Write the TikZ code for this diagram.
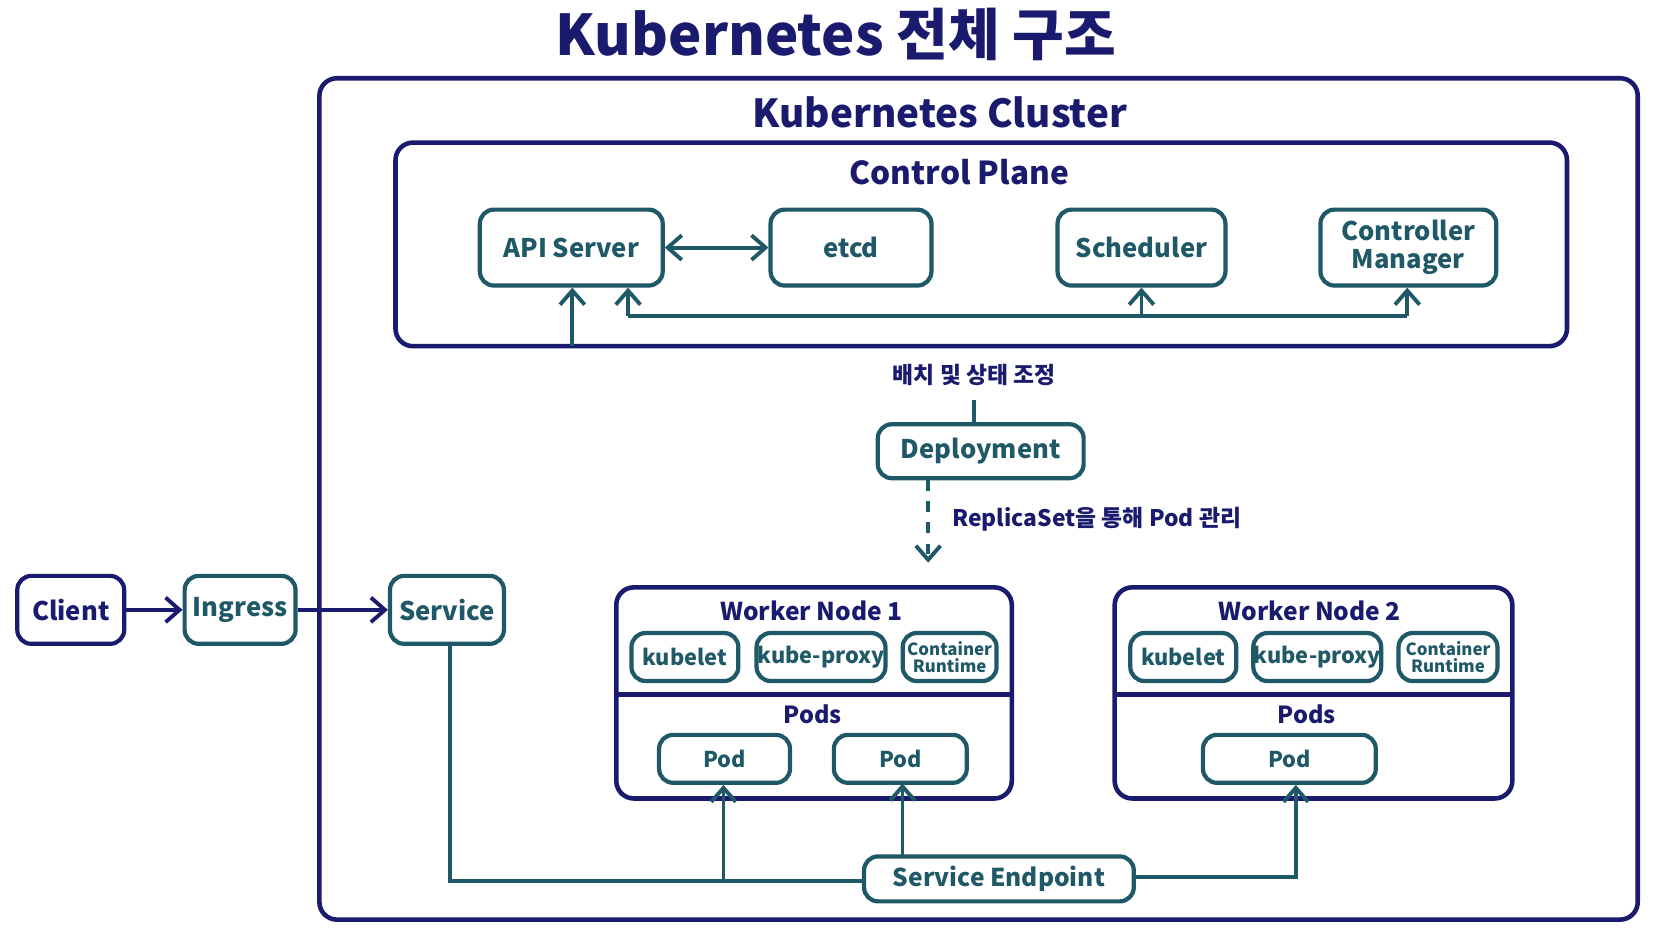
\documentclass[tikz,border=0pt]{standalone}
\usepackage{fontspec}
\setmainfont{Noto Sans CJK KR}
\usepackage{tikz}
\usetikzlibrary{arrows.meta,positioning}
\definecolor{navy}{HTML}{1A1A6E}
\definecolor{teal}{HTML}{1F5866}
\tikzset{
  frame/.style={draw=navy,line width=1.3pt,rounded corners=5pt},
  box/.style={draw=teal,line width=1.2pt,rounded corners=4pt,text=teal,font=\bfseries\fontsize{7.3}{8}\selectfont,align=center,inner sep=0pt},
  small/.style={box,font=\bfseries\fontsize{6.2}{6.5}\selectfont},
  tiny/.style={box,font=\bfseries\fontsize{4.8}{5}\selectfont},
  link/.style={draw=teal,line width=1.1pt,-{Straight Barb[length=4pt,width=7pt]}},
  lbl/.style={text=navy,font=\bfseries}
}
\begin{document}
\begin{tikzpicture}[x=0.01072cm,y=-0.01072cm]
\useasboundingbox (0,0) rectangle (1560,878);
% title
\node[lbl,font=\bfseries\fontsize{16}{18}\selectfont] (title) at (780,32) {Kubernetes 전체 구조};
% cluster
\draw[frame] (298,73) rectangle (1528,858);
\node[lbl,font=\bfseries\fontsize{11}{13}\selectfont] (cluster) at (877,105) {Kubernetes Cluster};
% control plane
\draw[frame] (369,133) rectangle (1462,323);
\node[lbl,font=\bfseries\fontsize{9}{11}\selectfont] (cp) at (895,161) {Control Plane};
\node[box,minimum width=1.83cm,minimum height=0.76cm] (api) at (533,231) {API Server};
\node[box,minimum width=1.61cm,minimum height=0.76cm] (etcd) at (794,231) {etcd};
\node[box,minimum width=1.68cm,minimum height=0.76cm] (sched) at (1065,231) {Scheduler};
\node[box,minimum width=1.76cm,minimum height=0.76cm] (ctrl) at (1314,231) {Controller\\Manager};
\draw[link,{Straight Barb[length=4pt,width=7pt]}-{Straight Barb[length=4pt,width=7pt]}] (api) -- (etcd);
\coordinate (cpin) at (534,323);
\draw[link] (cpin) -- (cpin |- api.south);
\coordinate (busl) at (586,295);
\coordinate (busr) at (1313,295);
\draw[draw=teal,line width=1.1pt] (busl) -- (busr);
\draw[link] (busl) -- (busl |- api.south);
\draw[link] (1065,295) -- (sched.south);
\draw[link] (busr) -- (busr |- ctrl.south);
% deployment
\node[lbl,font=\bfseries\fontsize{6.5}{8}\selectfont] (sync) at (909,350) {배치 및 상태 조정};
\node[box,minimum width=2.06cm,minimum height=0.54cm] (deploy) at (915,421) {Deployment};
\coordinate (synclow) at (909,373);
\draw[draw=teal,line width=1.1pt] (synclow) -- (synclow |- deploy.north);
\coordinate (rs) at (866,525);
\draw[link,dashed] (rs |- deploy.south) -- (rs);
\node[lbl,anchor=west,font=\bfseries\fontsize{6.5}{8}\selectfont] (rslbl) at (877,484) {ReplicaSet을 통해 Pod 관리};
% client path
\node[box,draw=navy,text=navy,minimum width=1.07cm,minimum height=0.68cm] (client) at (66,569) {Client};
\node[box,minimum width=1.11cm,minimum height=0.68cm] (ingress) at (224,569) {Ingress};
\node[box,minimum width=1.14cm,minimum height=0.68cm] (service) at (417,569) {Service};
\draw[link,draw=navy] (client) -- (ingress);
\draw[link,draw=navy] (ingress) -- (service);
% worker node 1
\draw[frame] (575,548) rectangle (944,745);
\draw[draw=navy,line width=1.3pt] (575,648) -- (944,648);
\node[lbl,font=\bfseries\fontsize{7}{8}\selectfont] (wn1) at (757,570) {Worker Node 1};
\node[small,minimum width=1.07cm,minimum height=0.48cm] (kl1) at (639,613) {kubelet};
\node[small,minimum width=1.29cm,minimum height=0.48cm] (kp1) at (766,613) {kube-proxy};
\node[tiny,minimum width=0.94cm,minimum height=0.48cm] (cr1) at (886,613) {Container\\Runtime};
\node[lbl,font=\bfseries\fontsize{6.7}{8}\selectfont] (pods1) at (758,666) {Pods};
\node[small,minimum width=1.31cm,minimum height=0.48cm] (pod1) at (676,708) {Pod};
\node[small,minimum width=1.33cm,minimum height=0.48cm] (pod2) at (840,708) {Pod};
% worker node 2
\draw[frame] (1040,548) rectangle (1411,745);
\draw[draw=navy,line width=1.3pt] (1040,648) -- (1411,648);
\node[lbl,font=\bfseries\fontsize{7}{8}\selectfont] (wn2) at (1222,570) {Worker Node 2};
\node[small,minimum width=1.06cm,minimum height=0.48cm] (kl2) at (1104,613) {kubelet};
\node[small,minimum width=1.28cm,minimum height=0.48cm] (kp2) at (1229,613) {kube-proxy};
\node[tiny,minimum width=0.99cm,minimum height=0.48cm] (cr2) at (1351,613) {Container\\Runtime};
\node[lbl,font=\bfseries\fontsize{6.7}{8}\selectfont] (pods2) at (1219,666) {Pods};
\node[small,minimum width=1.73cm,minimum height=0.48cm] (pod3) at (1203,708) {Pod};
% endpoint
\node[box,minimum width=2.70cm,minimum height=0.45cm,font=\bfseries\fontsize{7}{8}\selectfont] (sep) at (932,820) {Service Endpoint};
\coordinate (svcdown) at (420,822);
\draw[draw=teal,line width=1.1pt] (svcdown |- service.south) -- (svcdown) -- (sep.west |- svcdown);
\draw[link] (675,822) -- (pod1.south -| 675,0);
\draw[link] (842,799) -- (842,731);
\coordinate (sepr) at (1209,818);
\draw[link] (sep.east |- sepr) -- (sepr) -- (sepr |- pod3.south);
\end{tikzpicture}
\end{document}
